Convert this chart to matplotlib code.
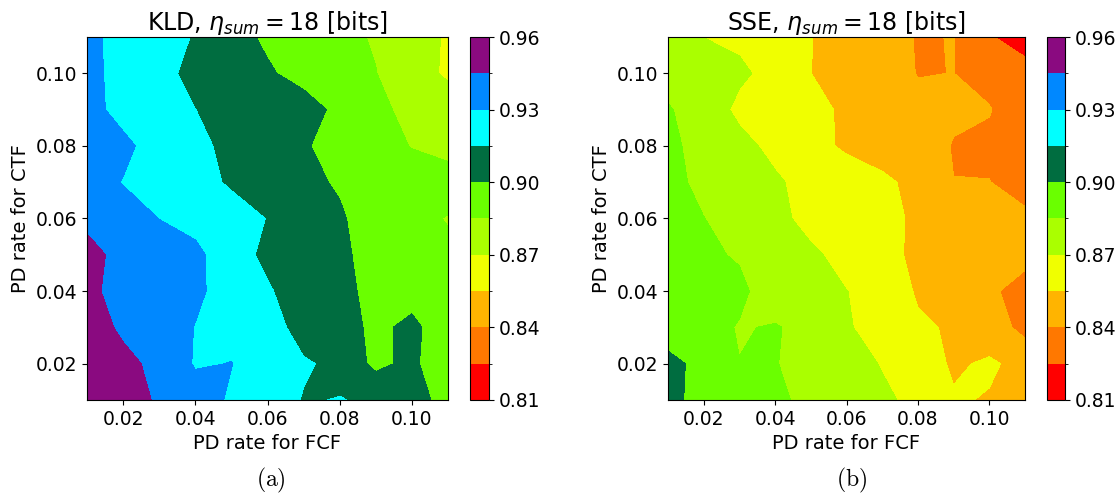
import numpy as np
import matplotlib
matplotlib.use("Agg")
import matplotlib.pyplot as plt
from matplotlib.colors import ListedColormap, BoundaryNorm

# grid of PD rates
pd_fcf = [0.01, 0.02, 0.03, 0.04, 0.05, 0.06, 0.07, 0.08, 0.09, 0.10, 0.11]
pd_ctf = [0.01, 0.02, 0.03, 0.04, 0.05, 0.06, 0.07, 0.08, 0.09, 0.10, 0.11]

# rows = PD rate for CTF (0.01 -> 0.11), cols = PD rate for FCF
kld = [
    [0.958, 0.950, 0.9436, 0.937, 0.9281, 0.924, 0.914, 0.9155, 0.913, 0.903, 0.8973],
    [0.955, 0.948, 0.942, 0.9287, 0.9303, 0.922, 0.917, 0.9108, 0.8964, 0.9037, 0.8861],
    [0.9507, 0.943, 0.9395, 0.9295, 0.926, 0.924, 0.907, 0.9020, 0.8989, 0.9012, 0.8969],
    [0.9485, 0.9395, 0.937, 0.933, 0.923, 0.9165, 0.9077, 0.903, 0.8968, 0.898, 0.894],
    [0.9491, 0.9411, 0.938, 0.9335, 0.921, 0.9119, 0.907, 0.903, 0.8942, 0.890, 0.8878],
    [0.942, 0.9371, 0.9298, 0.925, 0.9197, 0.9147, 0.907, 0.902, 0.8915, 0.889, 0.8842],
    [0.9375, 0.9293, 0.925, 0.919, 0.9136, 0.908, 0.904, 0.8982, 0.894, 0.8908, 0.8916],
    [0.938, 0.934, 0.9222, 0.919, 0.9108, 0.906, 0.903, 0.888, 0.890, 0.8845, 0.880],
    [0.936, 0.9242, 0.920, 0.9151, 0.910, 0.909, 0.907, 0.8959, 0.889, 0.8803, 0.877],
    [0.935, 0.9241, 0.920, 0.9102, 0.907, 0.902, 0.8943, 0.890, 0.8853, 0.8757, 0.868],
    [0.9345, 0.9238, 0.918, 0.9145, 0.906, 0.8972, 0.892, 0.888, 0.8839, 0.875, 0.8687],
]

sse = [
    [0.9025, 0.8968, 0.893, 0.888, 0.881, 0.877, 0.873, 0.8657, 0.856, 0.8543, 0.849],
    [0.9016, 0.8983, 0.8854, 0.8856, 0.8796, 0.877, 0.869, 0.8605, 0.8536, 0.8564, 0.852],
    [0.897, 0.893, 0.8835, 0.8866, 0.8782, 0.872, 0.8615, 0.857, 0.8535, 0.849, 0.8349],
    [0.895, 0.891, 0.8899, 0.8724, 0.874, 0.8702, 0.8652, 0.8533, 0.848, 0.8417, 0.836],
    [0.893, 0.889, 0.8828, 0.877, 0.8729, 0.8646, 0.859, 0.8523, 0.849, 0.846, 0.843],
    [0.891, 0.8852, 0.8802, 0.875, 0.8644, 0.861, 0.858, 0.8533, 0.8475, 0.845, 0.8427],
    [0.889, 0.8817, 0.878, 0.873, 0.8623, 0.8614, 0.858, 0.8507, 0.8401, 0.8403, 0.8345],
    [0.888, 0.8803, 0.8765, 0.8642, 0.859, 0.8531, 0.848, 0.8445, 0.8395, 0.837, 0.833],
    [0.8853, 0.8833, 0.865, 0.861, 0.859, 0.8527, 0.848, 0.8427, 0.8415, 0.8408, 0.830],
    [0.8835, 0.880, 0.8737, 0.8631, 0.8551, 0.849, 0.845, 0.8396, 0.8401, 0.835, 0.8315],
    [0.8738, 0.8698, 0.866, 0.861, 0.8553, 0.8503, 0.845, 0.8392, 0.8403, 0.8265, 0.8171],
]

levels = [0.81, 0.825, 0.84, 0.855, 0.87, 0.885, 0.90, 0.915, 0.93, 0.945, 0.96]
cbar_ticks = [0.81, 0.84, 0.87, 0.90, 0.93, 0.96]
titles = [r"KLD, $\eta_{sum} = 18$ [bits]", r"SSE, $\eta_{sum} = 18$ [bits]"]
captions = ["(a)", "(b)"]

colors = ["#ff0000", "#ff7800", "#ffb400", "#f0ff00", "#aaff00",
          "#6aff00", "#006d40", "#00ffff", "#0088ff", "#8a0a80"]
cmap = ListedColormap(colors)
norm = BoundaryNorm(levels, cmap.N)

fig = plt.figure(figsize=(11.19, 4.94), dpi=100)
ax_pos = [[87/1119, 0.1903, 361/1119, 0.7348], [668/1119, 0.1903, 357/1119, 0.7348]]
cb_pos = [[470/1119, 0.1903, 19/1119, 0.7348], [1047/1119, 0.1903, 18/1119, 0.7348]]
cap_x = [271/1119, 852/1119]

X, Y = np.meshgrid(pd_fcf, pd_ctf)
for i, data in enumerate([kld, sse]):
    ax = fig.add_axes(ax_pos[i])
    cs = ax.contourf(X, Y, np.array(data), levels=levels, cmap=cmap, norm=norm)
    ax.set_title(titles[i], fontsize=17, pad=4)
    ax.set_xlabel("PD rate for FCF", fontsize=14)
    ax.set_ylabel("PD rate for CTF", fontsize=14)
    ax.set_xticks([0.02, 0.04, 0.06, 0.08, 0.10])
    ax.set_yticks([0.02, 0.04, 0.06, 0.08, 0.10])
    ax.tick_params(labelsize=13.5)
    cax = fig.add_axes(cb_pos[i])
    cb = fig.colorbar(cs, cax=cax, ticks=cbar_ticks)
    cb.ax.set_yticklabels(["%.2f" % t for t in cbar_ticks])
    cb.ax.tick_params(labelsize=13.5)
    fig.text(cap_x[i], 1 - 480/494, r"$\mathrm{" + captions[i] + "}$",
             fontsize=17, ha="center", va="center", math_fontfamily="cm")

fig.savefig("out.png", dpi=100)
